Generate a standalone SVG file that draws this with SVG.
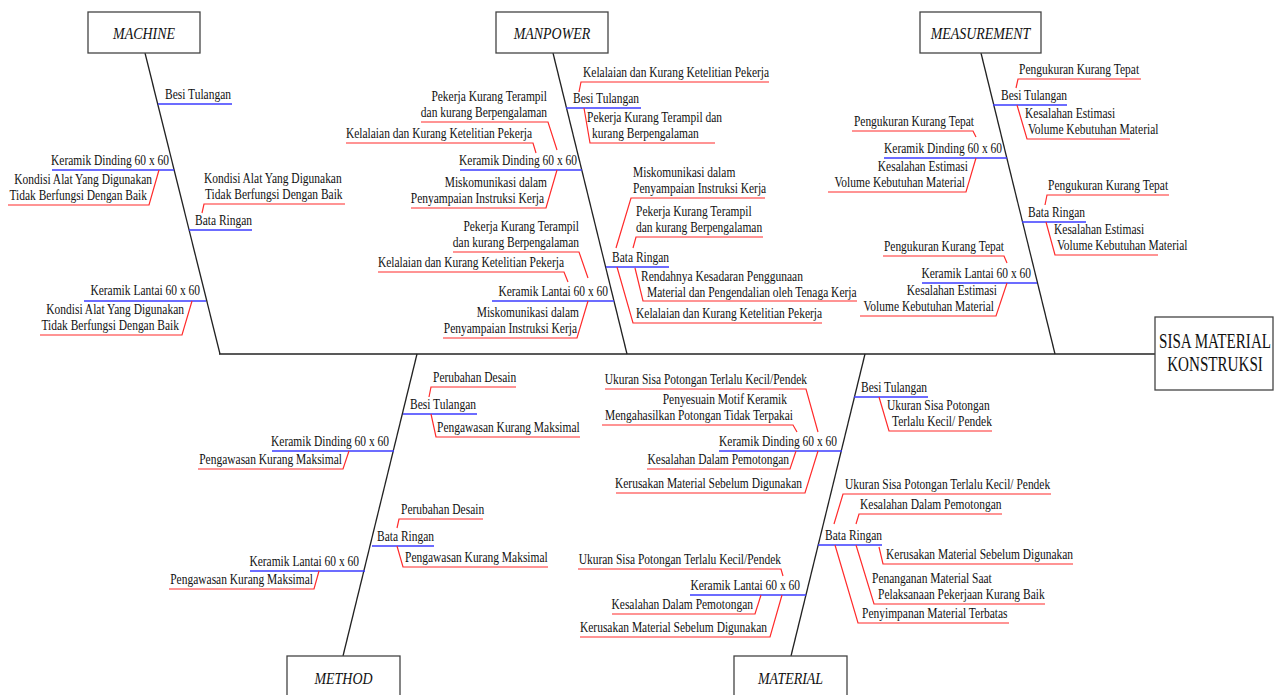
<svg xmlns="http://www.w3.org/2000/svg" width="1274" height="695" viewBox="0 0 1274 695">
<style>
.t{font-family:"Liberation Serif","Times New Roman",serif;font-size:14px;fill:#111}
.e{text-anchor:end}
.c{font-family:"Liberation Serif","Times New Roman",serif;font-size:16px;font-style:italic;text-anchor:middle;fill:#111}
.h{font-family:"Liberation Serif","Times New Roman",serif;font-size:21px;text-anchor:middle;fill:#111}
.box{fill:#fff;stroke:#444;stroke-width:1.3}
.k{stroke:#222;stroke-width:1.3;fill:none}
.b{stroke:#3b3bff;stroke-width:1.5;fill:none}
.r{stroke:#ff2b2b;stroke-width:1.2;fill:none}
</style>
<rect width="1274" height="695" fill="#fff"/>
<g id="connectors">
<path class="k" d="M219,354H1155"/>
<path class="k" d="M145,53L220,354"/>
<path class="k" d="M553,53L627,354"/>
<path class="k" d="M981,53L1055,354"/>
<path class="k" d="M417,354L343,656"/>
<path class="k" d="M865,354L791,656"/>
</g>
<g id="head">
<rect class="box" x="1155" y="317" width="118" height="73"/>
<text class="h" transform="translate(1215 348) scale(.72 1)">SISA MATERIAL</text>
<text class="h" transform="translate(1215 371) scale(.72 1)">KONSTRUKSI</text>
</g>
<g id="machine">
<rect class="box" x="88" y="12" width="112" height="41"/>
<text class="c" transform="translate(144 39) scale(.87 1)">MACHINE</text>
</g>
<g id="manpower">
<rect class="box" x="496" y="12" width="112" height="41"/>
<text class="c" transform="translate(552 39) scale(.87 1)">MANPOWER</text>
</g>
<g id="measurement">
<rect class="box" x="920" y="12" width="121" height="41"/>
<text class="c" transform="translate(980.5 39) scale(.87 1)">MEASUREMENT</text>
</g>
<g id="method">
<rect class="box" x="287" y="656" width="113" height="45"/>
<text class="c" transform="translate(343.5 684) scale(.87 1)">METHOD</text>
</g>
<g id="material">
<rect class="box" x="734" y="656" width="113" height="45"/>
<text class="c" transform="translate(790.5 684) scale(.87 1)">MATERIAL</text>
</g>

<g id="machine-besi">
<path class="b" d="M158,104H232"/>
<text class="t" transform="translate(165 99) scale(.82 1)">Besi Tulangan</text>
</g>
<g id="machine-dinding">
<path class="b" d="M52,170H174"/>
<text class="t e" transform="translate(169 165) scale(.82 1)">Keramik Dinding 60 x 60</text>
<polyline class="r" points="159,170 149,205 8,205"/>
<text class="t e" transform="translate(152 184) scale(.82 1)">Kondisi Alat Yang Digunakan</text>
<text class="t e" transform="translate(147 200) scale(.82 1)">Tidak Berfungsi Dengan Baik</text>
</g>
<g id="machine-bata">
<path class="b" d="M189,230H252"/>
<text class="t" transform="translate(195 225) scale(.82 1)">Bata Ringan</text>
<polyline class="r" points="202,213 204,204 345,204"/>
<text class="t" transform="translate(204 183) scale(.82 1)">Kondisi Alat Yang Digunakan</text>
<text class="t" transform="translate(205 199) scale(.82 1)">Tidak Berfungsi Dengan Baik</text>
</g>
<g id="machine-lantai">
<path class="b" d="M84,301H206"/>
<text class="t e" transform="translate(200 295) scale(.82 1)">Keramik Lantai 60 x 60</text>
<polyline class="r" points="192,301 182,335 40,335"/>
<text class="t e" transform="translate(184 314) scale(.82 1)">Kondisi Alat Yang Digunakan</text>
<text class="t e" transform="translate(179 330) scale(.82 1)">Tidak Berfungsi Dengan Baik</text>
</g>

<g id="manpower-besi">
<path class="b" d="M566,108H641"/>
<text class="t" transform="translate(573 103) scale(.82 1)">Besi Tulangan</text>
<polyline class="r" points="579,92 581,82 769,82"/>
<text class="t" transform="translate(583 77) scale(.82 1)">Kelalaian dan Kurang Ketelitian Pekerja</text>
<polyline class="r" points="584,108 590,143 715,143"/>
<text class="t" transform="translate(587 122) scale(.82 1)">Pekerja Kurang Terampil dan</text>
<text class="t" transform="translate(592 138) scale(.82 1)">kurang Berpengalaman</text>
</g>
<g id="manpower-bata">
<path class="b" d="M606,267H669"/>
<text class="t" transform="translate(612 262) scale(.82 1)">Bata Ringan</text>
<polyline class="r" points="616,248 631,198 765,198"/>
<text class="t" transform="translate(633 177) scale(.82 1)">Miskomunikasi dalam</text>
<text class="t" transform="translate(633 193) scale(.82 1)">Penyampaian Instruksi Kerja</text>
<polyline class="r" points="633,248 636,237 763,237"/>
<text class="t" transform="translate(636 216) scale(.82 1)">Pekerja Kurang Terampil</text>
<text class="t" transform="translate(636 232) scale(.82 1)">dan kurang Berpengalaman</text>
<polyline class="r" points="635,268 643,301 857,301"/>
<text class="t" transform="translate(641 281) scale(.82 1)">Rendahnya Kesadaran Penggunaan</text>
<text class="t" transform="translate(647 297) scale(.82 1)">Material dan Pengendalian oleh Tenaga Kerja</text>
<polyline class="r" points="617,267 633,323 822,323"/>
<text class="t" transform="translate(636 318) scale(.82 1)">Kelalaian dan Kurang Ketelitian Pekerja</text>
</g>
<g id="manpower-dinding">
<path class="b" d="M460,170H582"/>
<text class="t e" transform="translate(577 165) scale(.82 1)">Keramik Dinding 60 x 60</text>
<polyline class="r" points="557,150 548,122 421,122"/>
<text class="t e" transform="translate(547 101) scale(.82 1)">Pekerja Kurang Terampil</text>
<text class="t e" transform="translate(547 117) scale(.82 1)">dan kurang Berpengalaman</text>
<polyline class="r" points="536,153 533,143 346,143"/>
<text class="t e" transform="translate(532 138) scale(.82 1)">Kelalaian dan Kurang Ketelitian Pekerja</text>
<polyline class="r" points="557,170 546,208 411,208"/>
<text class="t e" transform="translate(547 187) scale(.82 1)">Miskomunikasi dalam</text>
<text class="t e" transform="translate(544 203) scale(.82 1)">Penyampaian Instruksi Kerja</text>
</g>
<g id="manpower-lantai">
<path class="b" d="M492,301H614"/>
<text class="t e" transform="translate(608 296) scale(.82 1)">Keramik Lantai 60 x 60</text>
<polyline class="r" points="588,278 579,252 453,252"/>
<text class="t e" transform="translate(579 231) scale(.82 1)">Pekerja Kurang Terampil</text>
<text class="t e" transform="translate(579 247) scale(.82 1)">dan kurang Berpengalaman</text>
<polyline class="r" points="568,282 564,272 378,272"/>
<text class="t e" transform="translate(564 267) scale(.82 1)">Kelalaian dan Kurang Ketelitian Pekerja</text>
<polyline class="r" points="588,301 577,338 443,338"/>
<text class="t e" transform="translate(579 317) scale(.82 1)">Miskomunikasi dalam</text>
<text class="t e" transform="translate(577 333) scale(.82 1)">Penyampaian Instruksi Kerja</text>
</g>

<g id="measurement-besi">
<path class="b" d="M993,105H1067"/>
<text class="t" transform="translate(1001 100) scale(.82 1)">Besi Tulangan</text>
<polyline class="r" points="1016,88 1018,79 1141,79"/>
<text class="t" transform="translate(1019 74) scale(.82 1)">Pengukuran Kurang Tepat</text>
<polyline class="r" points="1017,105 1027,139 1130,139"/>
<text class="t" transform="translate(1025 118) scale(.82 1)">Kesalahan Estimasi</text>
<text class="t" transform="translate(1028 134) scale(.82 1)">Volume Kebutuhan Material</text>
</g>
<g id="measurement-bata">
<path class="b" d="M1022,222H1086"/>
<text class="t" transform="translate(1028 217) scale(.82 1)">Bata Ringan</text>
<polyline class="r" points="1045,205 1047,195 1169,195"/>
<text class="t" transform="translate(1048 190) scale(.82 1)">Pengukuran Kurang Tepat</text>
<polyline class="r" points="1046,222 1055,255 1158,255"/>
<text class="t" transform="translate(1054 234) scale(.82 1)">Kesalahan Estimasi</text>
<text class="t" transform="translate(1057 250) scale(.82 1)">Volume Kebutuhan Material</text>
</g>
<g id="measurement-dinding">
<path class="b" d="M884,158H1007"/>
<text class="t e" transform="translate(1002 153) scale(.82 1)">Keramik Dinding 60 x 60</text>
<polyline class="r" points="976,137 973,131 852,131"/>
<text class="t e" transform="translate(974 126) scale(.82 1)">Pengukuran Kurang Tepat</text>
<polyline class="r" points="976,158 966,192 828,192"/>
<text class="t e" transform="translate(968 171) scale(.82 1)">Kesalahan Estimasi</text>
<text class="t e" transform="translate(965 187) scale(.82 1)">Volume Kebutuhan Material</text>
</g>
<g id="measurement-lantai">
<path class="b" d="M922,283H1037"/>
<text class="t e" transform="translate(1031 278) scale(.82 1)">Keramik Lantai 60 x 60</text>
<polyline class="r" points="1007,263 1004,256 883,256"/>
<text class="t e" transform="translate(1004 251) scale(.82 1)">Pengukuran Kurang Tepat</text>
<polyline class="r" points="1007,283 996,316 860,316"/>
<text class="t e" transform="translate(997 295) scale(.82 1)">Kesalahan Estimasi</text>
<text class="t e" transform="translate(994 311) scale(.82 1)">Volume Kebutuhan Material</text>
</g>

<g id="method-besi">
<path class="b" d="M403,414H477"/>
<text class="t" transform="translate(410 409) scale(.82 1)">Besi Tulangan</text>
<polyline class="r" points="429,397 431,387 516,387"/>
<text class="t" transform="translate(433 382) scale(.82 1)">Perubahan Desain</text>
<polyline class="r" points="431,414 436,437 580,437"/>
<text class="t" transform="translate(437 432) scale(.82 1)">Pengawasan Kurang Maksimal</text>
</g>
<g id="method-bata">
<path class="b" d="M372,546H434"/>
<text class="t" transform="translate(377 541) scale(.82 1)">Bata Ringan</text>
<polyline class="r" points="397,528 399,519 483,519"/>
<text class="t" transform="translate(401 514) scale(.82 1)">Perubahan Desain</text>
<polyline class="r" points="397,546 403,567 548,567"/>
<text class="t" transform="translate(405 562) scale(.82 1)">Pengawasan Kurang Maksimal</text>
</g>
<g id="method-dinding">
<path class="b" d="M272,451H394"/>
<text class="t e" transform="translate(389 446) scale(.82 1)">Keramik Dinding 60 x 60</text>
<polyline class="r" points="349,451 343,469 198,469"/>
<text class="t e" transform="translate(342 464) scale(.82 1)">Pengawasan Kurang Maksimal</text>
</g>
<g id="method-lantai">
<path class="b" d="M250,571H365"/>
<text class="t e" transform="translate(359 566) scale(.82 1)">Keramik Lantai 60 x 60</text>
<polyline class="r" points="319,571 314,589 169,589"/>
<text class="t e" transform="translate(313 584) scale(.82 1)">Pengawasan Kurang Maksimal</text>
</g>

<g id="material-besi">
<path class="b" d="M854,397H928"/>
<text class="t" transform="translate(861 392) scale(.82 1)">Besi Tulangan</text>
<polyline class="r" points="879,397 889,431 992,431"/>
<text class="t" transform="translate(887 410) scale(.82 1)">Ukuran Sisa Potongan</text>
<text class="t" transform="translate(892 426) scale(.82 1)">Terlalu Kecil/ Pendek</text>
</g>
<g id="material-bata">
<path class="b" d="M818,545H882"/>
<text class="t" transform="translate(825 540) scale(.82 1)">Bata Ringan</text>
<polyline class="r" points="834,524 843,494 1051,494"/>
<text class="t" transform="translate(845 489) scale(.82 1)">Ukuran Sisa Potongan Terlalu Kecil/ Pendek</text>
<polyline class="r" points="856,524 859,514 1002,514"/>
<text class="t" transform="translate(860 509) scale(.82 1)">Kesalahan Dalam Pemotongan</text>
<polyline class="r" points="879,547 883,564 1073,564"/>
<text class="t" transform="translate(886 559) scale(.82 1)">Kerusakan Material Sebelum Digunakan</text>
<polyline class="r" points="856,545 874,604 1045,604"/>
<text class="t" transform="translate(872 583) scale(.82 1)">Penanganan Material Saat</text>
<text class="t" transform="translate(878 599) scale(.82 1)">Pelaksanaan Pekerjaan Kurang Baik</text>
<polyline class="r" points="835,545 858,623 1009,623"/>
<text class="t" transform="translate(862 618) scale(.82 1)">Penyimpanan Material Terbatas</text>
</g>
<g id="material-dinding">
<path class="b" d="M719,451H842"/>
<text class="t e" transform="translate(837 446) scale(.82 1)">Keramik Dinding 60 x 60</text>
<polyline class="r" points="818,432 806,389 605,389"/>
<text class="t e" transform="translate(807 384) scale(.82 1)">Ukuran Sisa Potongan Terlalu Kecil/Pendek</text>
<polyline class="r" points="797,432 793,425 602,425"/>
<text class="t e" transform="translate(787 404) scale(.82 1)">Penyesuain Motif Keramik</text>
<text class="t e" transform="translate(793 420) scale(.82 1)">Mengahasilkan Potongan Tidak Terpakai</text>
<polyline class="r" points="796,451 790,469 647,469"/>
<text class="t e" transform="translate(789 464) scale(.82 1)">Kesalahan Dalam Pemotongan</text>
<polyline class="r" points="818,451 805,493 616,493"/>
<text class="t e" transform="translate(802 488) scale(.82 1)">Kerusakan Material Sebelum Digunakan</text>
</g>
<g id="material-lantai">
<path class="b" d="M690,595H806"/>
<text class="t e" transform="translate(800 590) scale(.82 1)">Keramik Lantai 60 x 60</text>
<polyline class="r" points="783,576 781,569 578,569"/>
<text class="t e" transform="translate(781 564) scale(.82 1)">Ukuran Sisa Potongan Terlalu Kecil/Pendek</text>
<polyline class="r" points="761,595 755,614 612,614"/>
<text class="t e" transform="translate(753 609) scale(.82 1)">Kesalahan Dalam Pemotongan</text>
<polyline class="r" points="782,595 770,637 580,637"/>
<text class="t e" transform="translate(767 632) scale(.82 1)">Kerusakan Material Sebelum Digunakan</text>
</g>
</svg>
